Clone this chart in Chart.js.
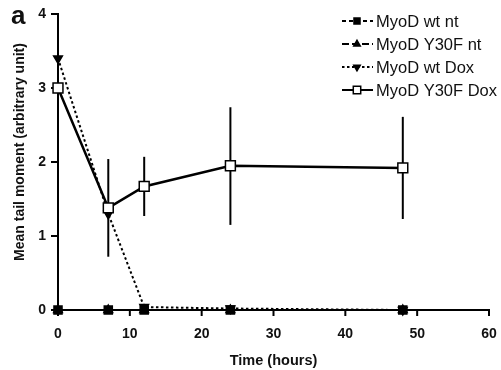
<!DOCTYPE html>
<html>
<head>
<meta charset="utf-8">
<script src="https://cdn.jsdelivr.net/npm/chart.js@4/dist/chart.umd.min.js"></script>
<style>
html,body{margin:0;padding:0;background:#fff;}
#wrap{width:501px;height:370px;position:relative;}
</style>
</head>
<body>
<div id="wrap"><canvas id="c" width="501" height="370"></canvas></div>
<script>
// ---- data ----
const timesHours = [0, 7, 12, 24, 48];
const seriesNames = ['MyoD wt nt', 'MyoD Y30F nt', 'MyoD wt Dox', 'MyoD Y30F Dox'];
const wtNt = [0, 0, 0, 0, 0];
const y30fNt = [0, 0, 0, 0, 0];
const wtDox = [3.4, 1.3, 0.04, 0.02, 0.0];
const y30fDox = [3.0, 1.38, 1.67, 1.95, 1.92];
const y30fDoxErrLow = [3.0, 0.72, 1.27, 1.15, 1.23];
const y30fDoxErrHigh = [3.0, 2.04, 2.07, 2.74, 2.61];
const xTicks = [0, 10, 20, 30, 40, 50, 60];
const yTicks = [0, 1, 2, 3, 4];
const yTitle = 'Mean tail moment (arbitrary unit)';
const xTitle = 'Time (hours)';

const FONT = "'Liberation Sans', Arial, sans-serif";
const pts = arr => timesHours.map((t, i) => ({x: t, y: arr[i]}));

const styles = [
  {dash: [4, 3], pointStyle: 'rect', radius: 5.7, fill: '#000', rot: 0},
  {dash: [7, 3], pointStyle: 'triangle', radius: 5, fill: '#000', rot: 0},
  {dash: [2.5, 2.5], pointStyle: 'triangle', radius: 5, fill: '#000', rot: 180},
  {dash: [], pointStyle: 'rect', radius: 7, fill: '#fff', rot: 0}
];
const seriesData = [wtNt, y30fNt, wtDox, y30fDox];

const datasets = seriesData.map((arr, i) => ({
  label: seriesNames[i],
  data: pts(arr),
  borderColor: '#000',
  borderWidth: i === 3 ? 2.5 : 2,
  borderDash: styles[i].dash,
  pointStyle: styles[i].pointStyle,
  pointRadius: styles[i].radius,
  pointRotation: styles[i].rot,
  pointBackgroundColor: styles[i].fill,
  pointBorderColor: '#000',
  pointBorderWidth: 1.5,
  tension: 0,
  fill: false,
  clip: false,
  order: 4 - i
}));

const errorBars = {
  id: 'errorBars',
  beforeDatasetsDraw(chart) {
    const {ctx, scales: {x, y}} = chart;
    ctx.save();
    ctx.strokeStyle = '#000';
    ctx.lineWidth = 2;
    timesHours.forEach((t, i) => {
      if (y30fDoxErrHigh[i] === y30fDoxErrLow[i]) return;
      const px = x.getPixelForValue(t);
      ctx.beginPath();
      ctx.moveTo(px, y.getPixelForValue(y30fDoxErrHigh[i]));
      ctx.lineTo(px, y.getPixelForValue(y30fDoxErrLow[i]));
      ctx.stroke();
    });
    ctx.restore();
  }
};

const tickMarks = {
  id: 'tickMarks',
  beforeDatasetsDraw(chart) {
    const {ctx, scales: {x, y}} = chart;
    ctx.save();
    ctx.strokeStyle = '#000';
    ctx.lineWidth = 2;
    const yb = y.getPixelForValue(0);
    const xl = x.getPixelForValue(0);
    xTicks.forEach(v => {
      const px = x.getPixelForValue(v);
      ctx.beginPath(); ctx.moveTo(px, yb); ctx.lineTo(px, yb + 6); ctx.stroke();
    });
    yTicks.forEach(v => {
      const py = y.getPixelForValue(v);
      ctx.beginPath(); ctx.moveTo(xl, py); ctx.lineTo(xl - 7, py); ctx.stroke();
    });
    ctx.restore();
  }
};

const customLegend = {
  id: 'customLegend',
  afterDraw(chart) {
    const {ctx} = chart;
    ctx.save();
    const x0 = 342, x1 = 373, xm = 357, tx = 376;
    const rows = [21, 44, 67, 90];
    seriesNames.forEach((name, i) => {
      const yy = rows[i];
      const s = styles[i];
      ctx.strokeStyle = '#000';
      ctx.lineWidth = 2;
      ctx.setLineDash(s.dash);
      ctx.beginPath();
      ctx.moveTo(x0, yy);
      ctx.lineTo(x1, yy);
      ctx.stroke();
      ctx.setLineDash([]);
      ctx.fillStyle = s.fill;
      ctx.lineWidth = 1.5;
      Chart.helpers.drawPoint(ctx, {
        pointStyle: s.pointStyle,
        radius: s.radius * 0.75,
        rotation: s.rot,
        borderWidth: 1.5
      }, xm, yy);
      ctx.fillStyle = '#111';
      ctx.font = '16.5px ' + FONT;
      ctx.textBaseline = 'middle';
      ctx.textAlign = 'left';
      ctx.fillText(name, tx, yy + 1);
    });
    // panel letter
    ctx.font = 'bold 26px ' + FONT;
    ctx.textBaseline = 'alphabetic';
    ctx.fillText('a', 11, 24);
    // y axis title
    ctx.translate(20, 152);
    ctx.rotate(-Math.PI / 2);
    ctx.font = 'bold 14px ' + FONT;
    ctx.textAlign = 'center';
    ctx.textBaseline = 'middle';
    ctx.fillText(yTitle, 0, 0);
    ctx.restore();
  }
};

new Chart(document.getElementById('c'), {
  type: 'line',
  data: {datasets},
  options: {
    responsive: false,
    animation: false,
    layout: {padding: {top: 14, right: 12, left: 0, bottom: 0}},
    plugins: {legend: {display: false}, tooltip: {enabled: false}},
    scales: {
      x: {
        type: 'linear',
        min: 0, max: 60,
        afterBuildTicks: ax => { ax.ticks = xTicks.map(v => ({value: v})); },
        afterFit: ax => { ax.height = 60; ax.paddingLeft = 0; ax.paddingRight = 0; },
        border: {color: '#000', width: 2},
        grid: {display: false},
        ticks: {color: '#111', font: {family: FONT, size: 14, weight: 'bold'}, padding: 8, maxRotation: 0},
        title: {display: true, text: xTitle, color: '#111', font: {family: FONT, size: 14.5, weight: 'bold'}, padding: {top: 2, bottom: 0}}
      },
      y: {
        type: 'linear',
        min: 0, max: 4,
        afterBuildTicks: ax => { ax.ticks = yTicks.map(v => ({value: v})); },
        afterFit: ax => { ax.width = 58; ax.paddingTop = 0; ax.paddingBottom = 0; },
        border: {color: '#000', width: 2},
        grid: {display: false},
        ticks: {color: '#111', font: {family: FONT, size: 14, weight: 'bold'}, padding: 4},
        title: {display: false}
      }
    }
  },
  plugins: [tickMarks, errorBars, customLegend]
});
</script>
</body>
</html>
